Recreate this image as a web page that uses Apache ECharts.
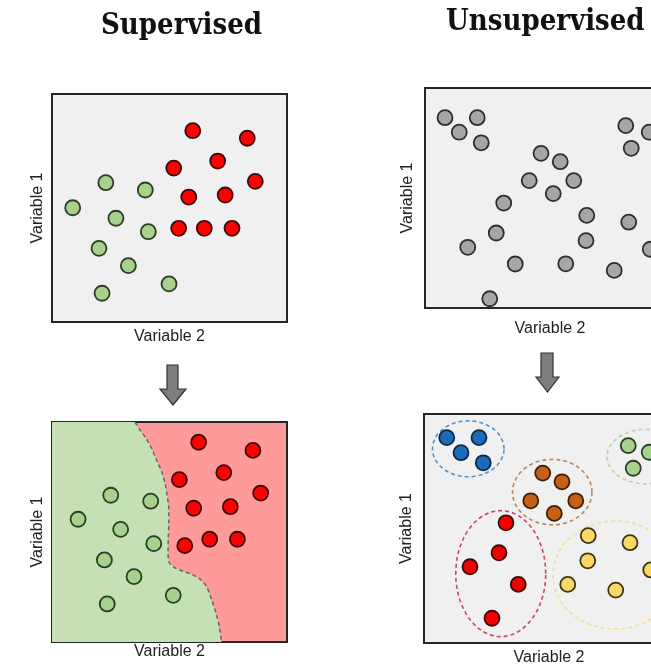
<!DOCTYPE html>
<html>
<head>
<meta charset="utf-8">
<script src="https://cdn.jsdelivr.net/npm/echarts@6/dist/echarts.min.js"></script>
<style>
html,body{margin:0;padding:0;background:#fff;}
#chart{width:651px;height:667px;}
</style>
</head>
<body>
<div id="chart"></div>
<script>
// ---- Data (axis units 0..10 in every panel) ----
const titles = ['Supervised', 'Unsupervised'];
const xName = 'Variable 2';
const yName = 'Variable 1';

// Panel 1: supervised, raw labelled data
const supRed = [[5.99,8.39],[8.31,8.06],[7.05,7.06],[5.18,6.75],[8.65,6.17],[5.82,5.48],[7.37,5.57],[5.39,4.11],[6.48,4.11],[7.66,4.11]];
const supGreen = [[2.29,6.11],[3.97,5.79],[0.88,5.01],[2.72,4.55],[4.10,3.96],[2.00,3.23],[3.25,2.47],[4.98,1.67],[2.13,1.26]];

// Panel 2: unsupervised, raw unlabelled data
const unsGray = [[0.8,8.65],[2.09,8.65],[1.37,7.99],[2.25,7.51],[8.03,8.29],[8.97,7.99],[8.25,7.26],[4.64,7.03],[5.41,6.65],[4.17,5.79],[5.95,5.79],[5.13,5.2],[3.15,4.77],[6.47,4.21],[8.15,3.9],[2.85,3.41],[6.44,3.06],[1.71,2.76],[9.01,2.67],[3.61,2.0],[5.63,2.01],[7.57,1.71],[2.59,0.42]];

// Panel 3: supervised, classified with decision boundary
const clsRed = [[6.24,9.08],[8.55,8.71],[7.31,7.70],[5.42,7.38],[8.88,6.77],[6.03,6.08],[7.59,6.15],[5.65,4.38],[6.71,4.67],[7.89,4.67]];
const clsGreen = [[2.50,6.67],[4.20,6.40],[1.11,5.58],[2.92,5.12],[4.33,4.47],[2.23,3.73],[3.49,2.97],[5.16,2.12],[2.35,1.73]];
const boundary = [[3.53,10],[3.74,9.64],[4.0,9.26],[4.24,8.8],[4.45,8.27],[4.67,7.74],[4.81,7.21],[4.91,6.6],[4.97,6.0],[4.97,5.39],[4.95,4.79],[4.94,4.18],[4.97,3.65],[5.16,3.42],[5.52,3.24],[5.94,3.08],[6.30,2.85],[6.58,2.51],[6.80,1.91],[6.98,1.30],[7.12,0.70],[7.21,0]];

// Panel 4: unsupervised, clusters
const clBlue = [[0.91,8.97],[2.2,8.97],[1.48,8.31],[2.37,7.87]];
const clBrown = [[4.75,7.42],[5.52,7.04],[4.27,6.21],[6.07,6.21],[5.21,5.66]];
const clRed = [[3.28,5.25],[3.0,3.94],[1.84,3.33],[3.77,2.56],[2.72,1.08]];
const clYellow = [[6.57,4.69],[8.24,4.38],[6.55,3.59],[5.75,2.56],[7.67,2.31],[9.07,3.19]];
const clGreen = [[8.17,8.62],[9.01,8.33],[8.37,7.63]];
// cluster outlines: [centerX, centerY, radiusX, radiusY]
const hullBlue = [1.77,8.48,1.43,1.22];
const hullBrown = [5.13,6.59,1.59,1.43];
const hullRed = [3.07,3.03,1.8,2.75];
const hullYellow = [7.64,2.97,2.48,2.36];
const hullGreen = [8.88,8.14,1.56,1.19];

// ---- Chart ----
const chart = echarts.init(document.getElementById('chart'), null, {renderer:'canvas'});
const FONT = 'Liberation Sans, Arial, sans-serif';
const TFONT = '"DejaVu Serif Condensed", "DejaVu Serif", serif';

const gridBase = {show:true, borderColor:'#262626', borderWidth:2, containLabel:false, outerBoundsMode:'none'};
const grids = [
  Object.assign({left:52, top:94, width:235, height:228, backgroundColor:'#f0f0f0'}, gridBase),
  Object.assign({left:425, top:88, width:250, height:220, backgroundColor:'#f0f0f0'}, gridBase),
  Object.assign({left:52, top:422, width:235, height:220, backgroundColor:'#fe9a9a'}, gridBase),
  Object.assign({left:424, top:414, width:250, height:229, backgroundColor:'#f0f0f0'}, gridBase)
];
const xGaps = [7, 13, 2, 7];
const yGaps = [6, 9, 6, 9];
function xAx(i){return {gridIndex:i, type:'value', min:0, max:10, name:xName, nameLocation:'middle', nameGap:xGaps[i],
  nameTextStyle:{fontFamily:FONT, fontSize:16, color:'#222', verticalAlign:'top'},
  axisLine:{show:false}, axisTick:{show:false}, axisLabel:{show:false}, splitLine:{show:false}};}
function yAx(i){return {gridIndex:i, type:'value', min:0, max:10, name:yName, nameLocation:'middle', nameGap:yGaps[i], nameRotate:90,
  nameTextStyle:{fontFamily:FONT, fontSize:16, color:'#222'},
  axisLine:{show:false}, axisTick:{show:false}, axisLabel:{show:false}, splitLine:{show:false}};}

function dots(i, data, fill, border){
  return {type:'scatter', xAxisIndex:i, yAxisIndex:i, data:data, symbol:'circle', symbolSize:15, z:5,
    itemStyle:{color:fill, borderColor:border, borderWidth:1.8, opacity:1}, silent:true};
}
function hull(i, h, color){
  return {type:'custom', xAxisIndex:i, yAxisIndex:i, data:[h], z:3, silent:true, clip:false,
    renderItem:function(params, api){
      const cx=api.value(0), cy=api.value(1), rx=api.value(2), ry=api.value(3);
      const pts=[];
      for(let k=0;k<72;k++){const a=k/72*Math.PI*2; pts.push(api.coord([cx+rx*Math.cos(a), cy+ry*Math.sin(a)]));}
      return {type:'polygon', shape:{points:pts}, style:{fill:'none', stroke:color, lineWidth:1.6, lineDash:[4,3]}};
    }};
}

const greenRegion = {type:'custom', xAxisIndex:2, yAxisIndex:2, data:[[0]], z:2, silent:true,
  renderItem:function(params, api){
    const pts=[api.coord([0,10])];
    boundary.forEach(p=>pts.push(api.coord(p)));
    pts.push(api.coord([0,0]));
    return {type:'polygon', shape:{points:pts}, style:{fill:'#c5e0b4', stroke:'none'}};
  }};
const boundaryLine = {type:'line', xAxisIndex:2, yAxisIndex:2, data:boundary, symbol:'none', smooth:0.3, z:3, silent:true,
  lineStyle:{color:'#666', width:1.5, type:[4,3]}};

function arrow(x1,x2,top,base,h1,h2,tip){
  const mid=(h1+h2)/2;
  return {type:'polygon', silent:true, z:10,
    shape:{points:[[x1,top],[x2,top],[x2,base],[h2,base],[mid,tip],[h1,base],[x1,base]]},
    style:{fill:'#7d7d7d', stroke:'#333', lineWidth:1.2}};
}

chart.setOption({
  animation:false,
  backgroundColor:'#ffffff',
  title:[
    {text:titles[0], left:101, top:12, padding:0, textStyle:{fontFamily:TFONT, fontSize:29, fontWeight:'bold', color:'#111'}},
    {text:titles[1], left:446, top:8, padding:0, textStyle:{fontFamily:TFONT, fontSize:29, fontWeight:'bold', color:'#111'}}
  ],
  grid:grids,
  xAxis:[xAx(0),xAx(1),xAx(2),xAx(3)],
  yAxis:[yAx(0),yAx(1),yAx(2),yAx(3)],
  graphic:[
    arrow(167,178,365,389,160,186,405),
    arrow(541,553,353,377,536,559,392)
  ],
  series:[
    dots(0, supGreen, '#a9d18e', '#2b3d22'),
    dots(0, supRed, '#ff0000', '#3a0a0a'),
    dots(1, unsGray, '#a6a6a6', '#2e2e2e'),
    greenRegion, boundaryLine,
    dots(2, clsGreen, '#a9d18e', '#2b3d22'),
    dots(2, clsRed, '#ff0000', '#3a0a0a'),
    hull(3, hullBlue, '#4f93cf'),
    hull(3, hullBrown, '#b88a66'),
    hull(3, hullRed, '#c9475c'),
    hull(3, hullYellow, '#f3df93'),
    hull(3, hullGreen, '#b8d4a6'),
    dots(3, clBlue, '#1b6bb8', '#0d2a45'),
    dots(3, clBrown, '#c65f17', '#3d1f08'),
    dots(3, clRed, '#f00000', '#3a0a0a'),
    dots(3, clYellow, '#fcd766', '#3d3416'),
    dots(3, clGreen, '#a9d18e', '#2b3d22')
  ]
});
</script>
</body>
</html>
